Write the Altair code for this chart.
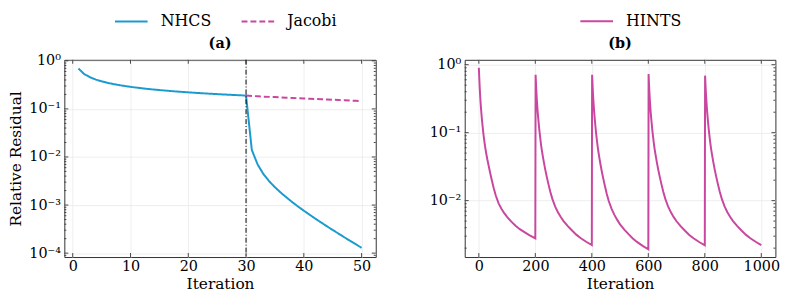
import altair as alt
import pandas as pd

# ---------------- data: panel (a) ----------------
iter_a = list(range(1, 51))
nhcs = [0.690, 0.530, 0.4545, 0.4074, 0.3743, 0.3493, 0.3294, 0.3131, 0.2994, 0.2876,
        0.2774, 0.2684, 0.2603, 0.2531, 0.2466, 0.2406, 0.2351, 0.2300, 0.2254, 0.2210,
        0.2169, 0.2131, 0.2096, 0.2062, 0.2031, 0.2000, 0.1972, 0.1945, 0.1919, 0.1895,
        0.0140, 0.00701, 0.00443, 0.00313, 0.00235, 0.00182, 0.00144, 0.00115, 0.000933, 0.000764,
        0.000630, 0.000521, 0.000434, 0.000362, 0.000303, 0.000255, 0.000214, 0.000181, 0.000153, 0.000129]
jacobi_iter = list(range(30, 51))
jacobi = [0.1895, 0.186, 0.183, 0.180, 0.178, 0.176, 0.173, 0.171, 0.169, 0.167,
          0.165, 0.163, 0.161, 0.159, 0.157, 0.155, 0.153, 0.151, 0.149, 0.147, 0.145]
switch_iter = [30]

# ---------------- data: panel (b) ----------------
hints_cycle_starts = [0, 200, 400, 600, 800]
hints_first_offsets = [0, 1, 2, 3, 4, 5, 6, 8, 10, 12, 14, 16, 19, 22, 26, 30, 35, 40, 46, 53,
                       60, 70, 80, 90, 100, 115, 130, 145, 160, 180, 200]
hints_offsets = [1, 2, 3, 4, 5, 6, 8, 10, 12, 14, 16, 19, 22, 26, 30, 35, 40, 46, 53,
                 60, 70, 80, 90, 100, 115, 130, 145, 160, 180, 200]
hints_c1 = [0.90, 0.724, 0.582, 0.468, 0.394, 0.331, 0.285, 0.219, 0.174, 0.141, 0.1175, 0.0977,
            0.0776, 0.0631, 0.0501, 0.0407, 0.0324, 0.0257, 0.0200, 0.0151, 0.0119, 0.00912,
            0.00759, 0.00653, 0.00575, 0.00490, 0.00427, 0.00380, 0.00347, 0.00309, 0.00278]
hints_c2 = [0.710, 0.569, 0.462, 0.385, 0.324, 0.279, 0.211, 0.168, 0.136, 0.112, 0.0933,
            0.0733, 0.0589, 0.0462, 0.0372, 0.0288, 0.0229, 0.0178, 0.0135, 0.0107, 0.00822,
            0.00676, 0.00575, 0.00501, 0.00422, 0.00363, 0.00316, 0.00282, 0.00248, 0.00222]
hints_c3 = [0.710, 0.569, 0.462, 0.385, 0.324, 0.279, 0.210, 0.166, 0.134, 0.110, 0.0912,
            0.0713, 0.0570, 0.0444, 0.0355, 0.0273, 0.0216, 0.0167, 0.0125, 0.00988, 0.00755,
            0.00617, 0.00521, 0.00447, 0.00375, 0.00321, 0.00278, 0.00247, 0.00216, 0.00192]
hints_c4 = [0.730, 0.575, 0.465, 0.387, 0.325, 0.280, 0.211, 0.168, 0.136, 0.112, 0.0933,
            0.0733, 0.0589, 0.0462, 0.0372, 0.0288, 0.0229, 0.0178, 0.0135, 0.0107, 0.00820,
            0.00672, 0.00571, 0.00497, 0.00419, 0.00360, 0.00313, 0.00279, 0.00246, 0.00220]
hints_c5 = [0.690, 0.562, 0.459, 0.384, 0.324, 0.279, 0.211, 0.168, 0.136, 0.112, 0.0933,
            0.0733, 0.0589, 0.0462, 0.0372, 0.0288, 0.0229, 0.0178, 0.0135, 0.0107, 0.00822,
            0.00676, 0.00575, 0.00501, 0.00422, 0.00363, 0.00316, 0.00282, 0.00248, 0.00222]
hints_cycles = [hints_c1, hints_c2, hints_c3, hints_c4, hints_c5]

# ---------------- ticks ----------------
x_ticks_a = [0, 10, 20, 30, 40, 50]
x_ticks_b = [0, 200, 400, 600, 800, 1000]
y_ticks_a = [1e-4, 1e-3, 1e-2, 1e-1, 1]
y_ticks_b = [1e-2, 1e-1, 1]
minor_mult = [2, 3, 4, 5, 6, 7, 8, 9]
decades = [1e-5, 1e-4, 1e-3, 1e-2, 1e-1]

BLUE = "#1a9bd0"
MAGENTA = "#c9479f"
FRAME = "#333333"
FONT = "DejaVu Serif"

ydom_a = [8.3e-5, 1.05]
ydom_b = [1.48e-3, 1.18]
xdom_a = [-1.45, 52.45]
xdom_b = [-50, 1050]

Wa, Ha = 315, 199.5
Wb, Hb = 314.3, 199.5

rows = [{"iter": i, "val": v, "series": "NHCS"} for i, v in zip(iter_a, nhcs)]
rows += [{"iter": i, "val": v, "series": "Jacobi"} for i, v in zip(jacobi_iter, jacobi)]
df_a = pd.DataFrame(rows)

rows_b = []
for k, (start, vals) in enumerate(zip(hints_cycle_starts, hints_cycles)):
    offs = hints_first_offsets if k == 0 else hints_offsets
    for o, v in zip(offs, vals):
        rows_b.append({"iter": start + o, "val": v, "series": "HINTS"})
df_b = pd.DataFrame(rows_b)

label_expr = ("datum.value >= 0.5 ? '10⁰' : datum.value >= 0.05 ? '10⁻¹' : "
              "datum.value >= 0.005 ? '10⁻²' : datum.value >= 0.0005 ? '10⁻³' : '10⁻⁴'")


def minor_list(dom):
    return [m * d for d in decades for m in minor_mult if dom[0] <= m * d <= dom[1]]


def xaxis(vals):
    return alt.Axis(values=vals, title="Iteration", format="d", labelFont=FONT, titleFont=FONT,
                    labelPadding=3, titlePadding=3)


def yaxis(vals, title):
    kw = dict(values=vals, labelExpr=label_expr, labelFont=FONT, titleFont=FONT,
              labelPadding=4, titlePadding=5)
    if title:
        return alt.Axis(title=title, **kw)
    return alt.Axis(title=None, **kw)


def tick_layers(W, H, xs, ys, xax, yax, xvals, yvals, yminor):
    dfx = pd.DataFrame({"iter": xvals})
    dfy = pd.DataFrame({"val": yvals})
    dfym = pd.DataFrame({"val": yminor})
    L = []
    for d, ln in ((dfy, 4), (dfym, 2)):
        c = alt.Chart(d).mark_rule(color=FRAME, strokeWidth=0.9)
        L.append(c.encode(y=alt.Y("val:Q", scale=ys, axis=yax), x=alt.value(0), x2=alt.value(ln)))
        L.append(c.encode(y=alt.Y("val:Q", scale=ys, axis=yax), x=alt.value(W), x2=alt.value(W - ln)))
    c = alt.Chart(dfx).mark_rule(color=FRAME, strokeWidth=0.9)
    L.append(c.encode(x=alt.X("iter:Q", scale=xs, axis=xax), y=alt.value(H), y2=alt.value(H - 4)))
    L.append(c.encode(x=alt.X("iter:Q", scale=xs, axis=xax), y=alt.value(0), y2=alt.value(4)))
    return L


def legend(x):
    return alt.Legend(orient="none", legendX=x, legendY=-48.5, direction="horizontal",
                      title=None, symbolType="M-2,0H2", symbolSize=272, symbolStrokeWidth=2,
                      labelOffset=20.25, columnPadding=26, padding=0, offset=0,
                      labelFont=FONT, labelFontSize=16, labelColor="black")


# ---------------- panel (a) ----------------
xs_a = alt.Scale(domain=xdom_a, nice=False, zero=False)
ys_a = alt.Scale(type="log", domain=ydom_a, nice=False)
xax_a = xaxis(x_ticks_a)
yax_a = yaxis(y_ticks_a, "Relative Residual")
leg_a = legend(58.25)
lines_a = alt.Chart(df_a).mark_line(strokeWidth=2, clip=True).encode(
    x=alt.X("iter:Q", scale=xs_a, axis=xax_a),
    y=alt.Y("val:Q", scale=ys_a, axis=yax_a),
    color=alt.Color("series:N", scale=alt.Scale(domain=["NHCS", "Jacobi"], range=[BLUE, MAGENTA]),
                    legend=leg_a),
    strokeDash=alt.StrokeDash("series:N", scale=alt.Scale(domain=["NHCS", "Jacobi"],
                                                          range=[[1, 0], [6, 3]]), legend=leg_a),
    order=alt.Order("iter:Q"),
)
vline = alt.Chart(pd.DataFrame({"iter": switch_iter})).mark_rule(
    color="black", strokeWidth=1, strokeDash=[5, 2, 1, 2]).encode(
    x=alt.X("iter:Q", scale=xs_a, axis=xax_a))
title_a = alt.Chart(pd.DataFrame({"t": ["(a)"]})).mark_text(
    font=FONT, fontWeight="bold", fontSize=14.5, baseline="middle", align="center",
    color="black").encode(text="t:N", x=alt.value(Wa / 2), y=alt.value(-16))
panel_a = alt.layer(lines_a, vline, *tick_layers(Wa, Ha, xs_a, ys_a, xax_a, yax_a, x_ticks_a,
                                                 y_ticks_a, minor_list(ydom_a)), title_a
                    ).properties(width=Wa, height=Ha)

# ---------------- panel (b) ----------------
xs_b = alt.Scale(domain=xdom_b, nice=False, zero=False)
ys_b = alt.Scale(type="log", domain=ydom_b, nice=False)
xax_b = xaxis(x_ticks_b)
yax_b = yaxis(y_ticks_b, None)
lines_b = alt.Chart(df_b).mark_line(strokeWidth=2, clip=True).encode(
    x=alt.X("iter:Q", scale=xs_b, axis=xax_b),
    y=alt.Y("val:Q", scale=ys_b, axis=yax_b),
    color=alt.Color("series:N", scale=alt.Scale(domain=["HINTS"], range=[MAGENTA]),
                    legend=legend(124)),
    order=alt.Order("iter:Q"),
)
title_b = alt.Chart(pd.DataFrame({"t": ["(b)"]})).mark_text(
    font=FONT, fontWeight="bold", fontSize=14.5, baseline="middle", align="center",
    color="black").encode(text="t:N", x=alt.value(Wb / 2), y=alt.value(-16))
panel_b = alt.layer(lines_b, *tick_layers(Wb, Hb, xs_b, ys_b, xax_b, yax_b, x_ticks_b,
                                          y_ticks_b, minor_list(ydom_b)), title_b
                    ).properties(width=Wb, height=Hb)

chart = alt.hconcat(panel_a, panel_b, spacing=52).resolve_scale(
    color="independent", strokeDash="independent", x="independent", y="independent"
).properties(
    padding={"left": 0, "top": 1.75, "right": 5, "bottom": 0}
).configure_view(stroke=FRAME, strokeWidth=1).configure_axis(
    labelFont=FONT, labelFontSize=14.5, labelColor="black", titleFont=FONT,
    titleFontSize=15.5, titleFontWeight="normal", titleColor="black", domain=False,
    ticks=False, tickSize=0, grid=True, gridColor="#e9e9e9", gridWidth=0.8, labelFlush=False
)

chart.save("out.html", embed_options={"renderer": "svg", "actions": False})
